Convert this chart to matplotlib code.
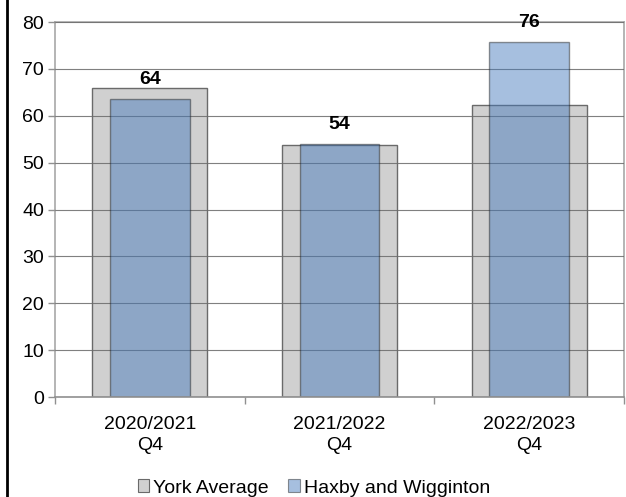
import matplotlib
matplotlib.use("Agg")
import matplotlib.pyplot as plt
from matplotlib.lines import Line2D
from matplotlib.patches import Patch
import numpy as np

categories = ["2020/2021\nQ4", "2021/2022\nQ4", "2022/2023\nQ4"]
york_avg = [66.0, 53.7, 62.4]
haxby = [63.5, 53.9, 75.7]
haxby_labels = ["64", "54", "76"]
yticks = [0, 10, 20, 30, 40, 50, 60, 70, 80]

plt.rcParams['font.family'] = ['Liberation Sans', 'DejaVu Sans']

W, H = 626, 497
fig = plt.figure(figsize=(W / 100, H / 100), dpi=100)
ax = fig.add_axes([55 / W, 1 - 397 / H, (624 - 55) / W, (397 - 22) / H])

x = np.arange(len(categories))
york_color = '#D0D0D0'
haxby_color = '#4378BB'
haxby_alpha = 0.47

ax.bar(x, york_avg, width=0.605, color=york_color, edgecolor='#6a6a6a', linewidth=1.0, zorder=2)
ax.bar(x, haxby, width=0.42, color=haxby_color, alpha=haxby_alpha, edgecolor='#202020', linewidth=1.0, zorder=3)

for xi, v, lab in zip(x, haxby, haxby_labels):
    ax.annotate(lab, (xi, v), xytext=(0, 14.5), textcoords='offset points', ha='center', va='center',
                fontsize=14, fontweight='bold', color='black', zorder=5)

ax.set_xlim(-0.5, 2.5)
ax.set_ylim(0, 80)
ax.set_yticks(yticks)
ax.set_xticks(x)
ax.set_xticklabels(categories, fontsize=14, linespacing=1.25)
ax.set_xticks([-0.5, 0.5, 1.5, 2.5], minor=True)
ax.tick_params(axis='x', which='major', length=0, pad=14)
ax.tick_params(axis='x', which='minor', length=5, color='#909090', width=1)
ax.tick_params(axis='y', length=5, color='#909090', width=1, labelsize=14, pad=3)

ax.yaxis.grid(True, color='#6a6a6a', linewidth=0.8, alpha=0.85, zorder=4)
ax.set_axisbelow(False)
for gl in ax.get_ygridlines():
    gl.set_zorder(4)

for s in ['left', 'right', 'top', 'bottom']:
    ax.spines[s].set_color('#A8A8A8')
    ax.spines[s].set_linewidth(1.2)
ax.spines['bottom'].set_color('#909090')
ax.spines['bottom'].set_zorder(6)

# left black border of the chart frame
fig.add_artist(Line2D([7 / W, 7 / W], [0, 1], transform=fig.transFigure, color='black', linewidth=2))

handles = [Patch(facecolor=york_color, edgecolor='#6a6a6a', linewidth=0.8),
           Patch(facecolor=haxby_color, alpha=haxby_alpha, edgecolor='#202020', linewidth=0.8)]
fig.legend(handles, ["York Average", "Haxby and Wigginton"], loc='center', bbox_to_anchor=(314 / W, 1 - 488 / H),
           ncol=2, frameon=False, fontsize=14, handlelength=0.6, handleheight=0.6,
           handletextpad=0.2, columnspacing=1.0, borderpad=0.1)

fig.savefig("out.png", dpi=100)
